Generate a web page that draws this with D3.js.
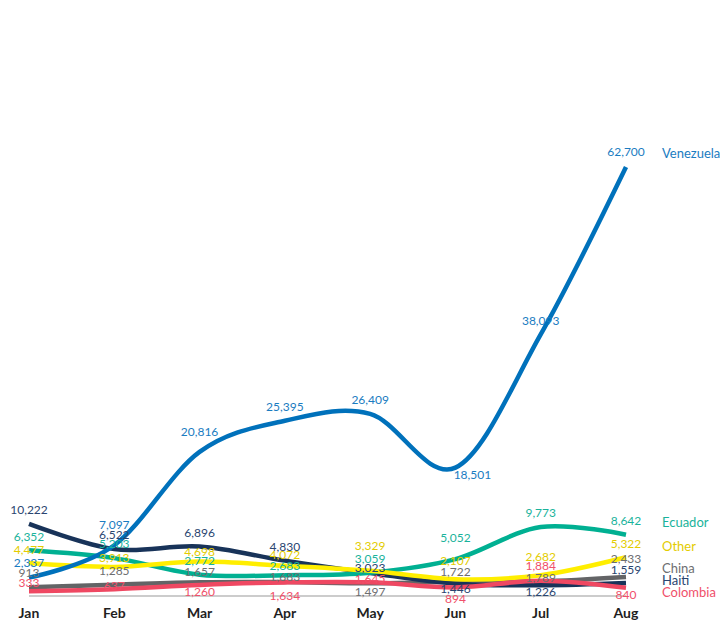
<!DOCTYPE html>
<html>
<head>
<meta charset="utf-8">
<script src="https://cdn.jsdelivr.net/npm/d3@7"></script>
<style>
  body { margin: 0; background: #fff; }
  svg { display: block; font-family: Lato, "Open Sans", sans-serif; }
  .month { font-weight: 700; font-size: 14px; fill: #1f1f1f; }
  .val { font-size: 12px; }
  .name { font-size: 13px; }
</style>
</head>
<body>
<svg width="720" height="621"></svg>
<script>
const svg = d3.select("svg");

// data
const months = ["Jan", "Feb", "Mar", "Apr", "May", "Jun", "Jul", "Aug"];
const venezuela = [2337, 7097, 20816, 25395, 26409, 18501, 38093, 62700];
const ecuador = [6352, 5203, 2772, 2683, 3059, 5052, 9773, 8642];
const other = [4477, 3913, 4698, 4072, 3329, 2107, 2682, 5322];
const china = [913, 1285, 1657, 1683, 1497, 1722, 1789, 2433];
const haiti = [10222, 6522, 6896, 4830, 3023, 1446, 1226, 1559];
const colombia = [333, 637, 1260, 1634, 1645, 894, 1884, 840];

// label nudges (px, relative to point) to keep value labels apart
const labelDy = {
  Venezuela: [-15, -20, -20, -14, -14, 7, -14, -15],
  Ecuador: [-13, -14, -14, -9, -14, -21, -14, -14],
  Other: [-13, -9, -10, -11, -25, -18, -18, -13],
  China: [-14, -14, -10, -5, 8, -10, -4, -18],
  Haiti: [-14, -14, -14, -14, -5, 5, 7, -13],
  Colombia: [-8, -3, 7, 13, -4, 11, -15, 7]
};

const series = [
  { name: "China", values: china, line: "#636466", text: "#6d6e70", legendY: 568 },
  { name: "Haiti", values: haiti, line: "#183359", text: "#2a4570", legendY: 580 },
  { name: "Ecuador", values: ecuador, line: "#00b092", text: "#19b39b", legendY: 522 },
  { name: "Other", values: other, line: "#ffee00", text: "#e3cc00", legendY: 546 },
  { name: "Colombia", values: colombia, line: "#ef4862", text: "#f0506a", legendY: 592 },
  { name: "Venezuela", values: venezuela, line: "#0071bb", text: "#1a7cc1", legendY: 153 }
];

const x = d3.scalePoint().domain(months).range([29, 626]);
const y = d3.scaleLinear().domain([0, 62700]).range([593.5, 167]);

// baseline
svg.append("line")
  .attr("x1", x("Jan")).attr("x2", x("Aug"))
  .attr("y1", 596).attr("y2", 596)
  .attr("stroke", "#9a9a9a").attr("stroke-width", 1.2);

const line = d3.line()
  .x((d, i) => x(months[i]))
  .y((d) => y(d))
  .curve(d3.curveCatmullRom.alpha(0));

svg.selectAll(".series")
  .data(series)
  .enter()
  .append("path")
  .attr("class", "series")
  .attr("d", (d) => line(d.values))
  .attr("fill", "none")
  .attr("stroke", (d) => d.line)
  .attr("stroke-width", 4.5);

// value labels
series.forEach((s) => {
  svg.append("g")
    .selectAll("text")
    .data(s.values)
    .enter()
    .append("text")
    .attr("class", "val")
    .attr("x", (d, i) => x(months[i]) + (s.name == "Venezuela" && i == 5 ? 17 : 0))
    .attr("y", (d, i) => y(d) + labelDy[s.name][i])
    .attr("dy", "0.35em")
    .attr("text-anchor", "middle")
    .attr("fill", s.text)
    .text((d) => d3.format(",")(d));

  svg.append("text")
    .attr("class", "name")
    .attr("x", 662)
    .attr("y", s.legendY)
    .attr("dy", "0.35em")
    .attr("fill", s.text)
    .text(s.name);
});

// month axis
svg.append("g")
  .selectAll("text")
  .data(months)
  .enter()
  .append("text")
  .attr("class", "month")
  .attr("x", (d) => x(d))
  .attr("y", 613)
  .attr("dy", "0.35em")
  .attr("text-anchor", "middle")
  .text((d) => d);
</script>
</body>
</html>
